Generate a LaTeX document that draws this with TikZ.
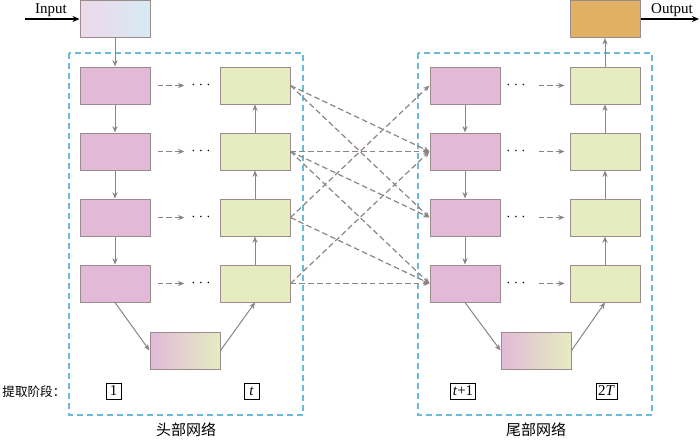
\documentclass[tikz,border=0pt]{standalone}
\usepackage{fontspec}
\setmainfont{Liberation Serif}
\newfontfamily\cjk{Noto Sans CJK SC}
\usetikzlibrary{arrows.meta}

\definecolor{pinkfill}{HTML}{E2BAD8}
\definecolor{greenfill}{HTML}{E4ECC0}
\definecolor{orangefill}{HTML}{E2B062}
\definecolor{inpink}{HTML}{EED8EA}
\definecolor{inblue}{HTML}{D6EAF2}
\definecolor{boxline}{HTML}{9A8C8C}
\definecolor{arrowgray}{HTML}{8C8484}
\definecolor{netblue}{HTML}{6CBAD8}

\tikzset{
  block/.style={draw=boxline, line width=0.5pt, minimum width=35pt,
    minimum height=18.5pt, inner sep=0pt},
  pinkblock/.style={block, fill=pinkfill},
  greenblock/.style={block, fill=greenfill},
  mixblock/.style={block, left color=pinkfill, right color=greenfill},
  flow/.style={draw=arrowgray, line width=0.5pt,
    -{Stealth[length=3.2pt,width=2.6pt]}},
  skip/.style={flow, line width=0.6pt, dash pattern=on 2.8pt off 1.6pt},
  netbox/.style={draw=netblue, line width=0.6pt, dash pattern=on 3pt off 2pt},
  stage/.style={draw=black, line width=0.3pt, inner sep=1pt,
    minimum height=8pt, minimum width=7.5pt},
  dotsnode/.style={inner sep=0pt},
}

\begin{document}
\begin{tikzpicture}[x=0.5pt, y=-0.5pt, font=\fontsize{7.5}{9}\selectfont]
      \useasboundingbox (0,0) rectangle (700,439);

      % network frames
      \draw[netbox] (69,53) rectangle (303,415);
      \draw[netbox] (418,53) rectangle (652,415);

      % input and output
      \node[block, left color=inpink, right color=inblue] (in) at (115,19) {};
      \node[block, fill=orangefill] (out) at (605,19) {};
      \coordinate (inl) at (25,19);
      \coordinate (outr) at (699,19);
      \node (intext) at (51,10) {Input};
      \node (outtext) at (672,10) {Output};

      % head network
      \draw
        (115,85.5) node[pinkblock] (pl1){}
        (115,151.5) node[pinkblock] (pl2){}
        (115,217.5) node[pinkblock] (pl3){}
        (115,283.5) node[pinkblock] (pl4){}
        (255,85.5) node[greenblock] (gl1){}
        (255,151.5) node[greenblock] (gl2){}
        (255,217.5) node[greenblock] (gl3){}
        (255,283.5) node[greenblock] (gl4){}
        (201,85.5) node[dotsnode] (dl1){$\cdots$}
        (201,151.5) node[dotsnode] (dl2){$\cdots$}
        (201,217.5) node[dotsnode] (dl3){$\cdots$}
        (201,283.5) node[dotsnode] (dl4){$\cdots$}
        (185,350.5) node[mixblock] (bl){};

      % tail network
      \draw
        (465,85.5) node[pinkblock] (pr1){}
        (465,151.5) node[pinkblock] (pr2){}
        (465,217.5) node[pinkblock] (pr3){}
        (465,283.5) node[pinkblock] (pr4){}
        (605,85.5) node[greenblock] (gr1){}
        (605,151.5) node[greenblock] (gr2){}
        (605,217.5) node[greenblock] (gr3){}
        (605,283.5) node[greenblock] (gr4){}
        (516,85.5) node[dotsnode] (dr1){$\cdots$}
        (516,151.5) node[dotsnode] (dr2){$\cdots$}
        (516,217.5) node[dotsnode] (dr3){$\cdots$}
        (516,283.5) node[dotsnode] (dr4){$\cdots$}
        (536,350.5) node[mixblock] (br){};

      % stage labels
      \node[anchor=west, inner sep=0pt, font=\fontsize{6.3}{8}\selectfont]
        (stagetext) at (2,392) {{\cjk 提取阶段：}};
      \node[stage] (s1) at (113.5,391) {1};
      \node[stage] (st) at (251.5,391) {\textit{t}};
      \node[stage] (st1) at (463,391) {\textit{t}+1};
      \node[stage] (s2T) at (606.5,391) {2\textit{T}};
      \node (headtext) at (186,430) {{\cjk 头部网络}};
      \node (tailtext) at (536,430) {{\cjk 尾部网络}};

      \begin{scope}[line width=0.6pt]
        \draw[-{Stealth[length=3.5pt,width=3pt]}] (inl) to (in);
        \draw[-{Stealth[length=3.5pt,width=3pt]}] (out) to (outr);
      \end{scope}

      \begin{scope}[flow]
        \draw (in) to (pl1);
        \draw (pl1) to (pl2);
        \draw (pl2) to (pl3);
        \draw (pl3) to (pl4);
        \draw (pl4.south) to (bl.west);
        \draw (bl.east) to (gl4.south);
        \draw (gl4) to (gl3);
        \draw (gl3) to (gl2);
        \draw (gl2) to (gl1);
        \draw (pr1) to (pr2);
        \draw (pr2) to (pr3);
        \draw (pr3) to (pr4);
        \draw (pr4.south) to (br.west);
        \draw (br.east) to (gr4.south);
        \draw (gr4) to (gr3);
        \draw (gr3) to (gr2);
        \draw (gr2) to (gr1);
        \draw (gr1) to (out);
      \end{scope}

      \begin{scope}[skip]
        \draw[shorten <=3.5pt, shorten >=3.2pt] (pl1) to (dl1);
        \draw[shorten <=3.5pt, shorten >=3.2pt] (pl2) to (dl2);
        \draw[shorten <=3.5pt, shorten >=3.2pt] (pl3) to (dl3);
        \draw[shorten <=3.5pt, shorten >=3.2pt] (pl4) to (dl4);
        \draw[shorten <=6.2pt, shorten >=2.5pt] (dr1) to (gr1);
        \draw[shorten <=6.2pt, shorten >=2.5pt] (dr2) to (gr2);
        \draw[shorten <=6.2pt, shorten >=2.5pt] (dr3) to (gr3);
        \draw[shorten <=6.2pt, shorten >=2.5pt] (dr4) to (gr4);
        \draw (gl1.east) to (pr2.west);
        \draw (gl1.east) to (pr3.west);
        \draw (gl2.east) to (pr2.west);
        \draw (gl2.east) to (pr3.west);
        \draw (gl2.east) to (pr4.west);
        \draw (gl3.east) to (pr1.west);
        \draw (gl3.east) to (pr4.west);
        \draw (gl4.east) to (pr2.west);
        \draw (gl4.east) to (pr4.west);
      \end{scope}
    \end{tikzpicture}
\end{document}
